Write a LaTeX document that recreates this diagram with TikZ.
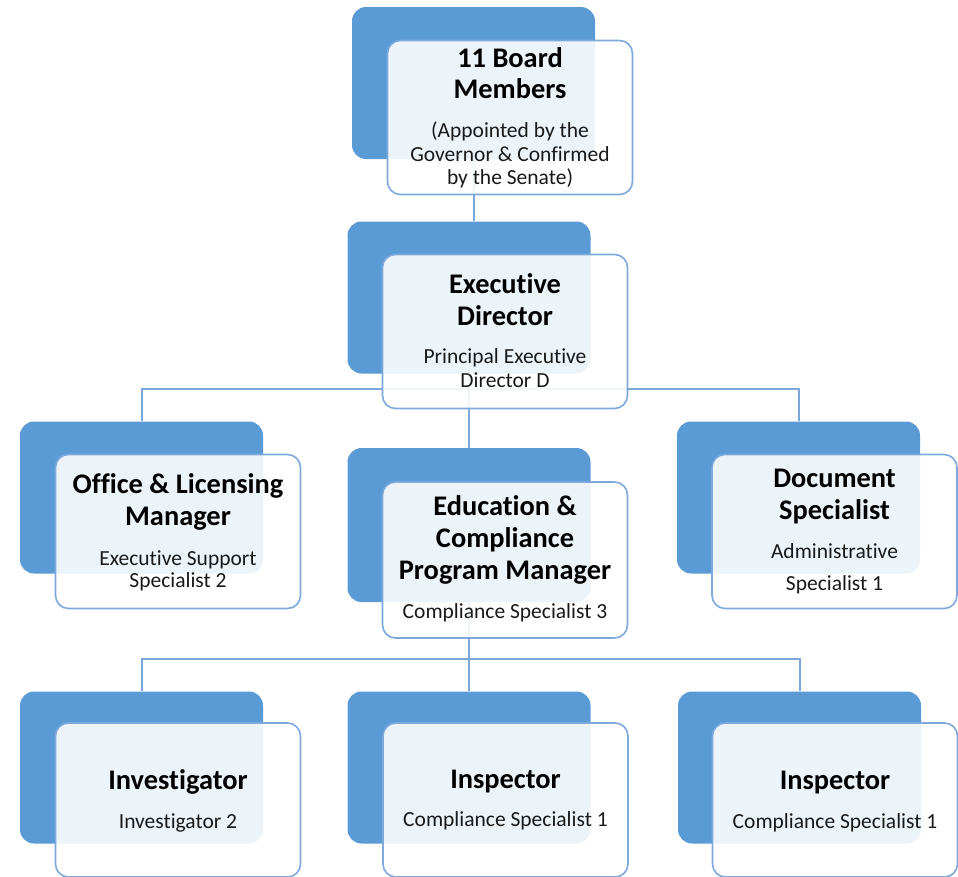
\documentclass[tikz,border=0pt]{standalone}
\usepackage{fontspec}
\setmainfont{Carlito}[Ligatures=NoCommon]
\definecolor{backblue}{HTML}{5B9BD5}
\definecolor{edgeblue}{HTML}{7EA9DC}
\definecolor{lineblue}{HTML}{7BA7DA}
\tikzset{
  backbox/.style={rectangle, rounded corners=14pt, fill=backblue, draw=none,
    minimum width=243pt, minimum height=152pt, inner sep=0pt},
  frontbox/.style={rectangle, rounded corners=13pt, fill=white, fill opacity=0.89,
    draw=edgeblue, draw opacity=1, line width=1.6pt,
    minimum width=245pt, minimum height=154pt, inner sep=0pt},
  ttl/.style={anchor=base, inner sep=0pt, font=\fontsize{28.4}{32}\selectfont\bfseries, text=black},
  sub/.style={anchor=base, inner sep=0pt, font=\fontsize{21.5}{24}\selectfont, text=black!90},
  conn/.style={draw=lineblue, line width=2pt},
}
\begin{document}
\begin{tikzpicture}[x=1pt,y=-1pt]
\useasboundingbox (0,0) rectangle (958,876);
\clip (0,0) rectangle (958,876);
\fill[white] (0,0) rectangle (958,876);
% back boxes
\node[backbox] (bb)  at (473.5,83)  {};
\node[backbox] (eb)  at (469,297.5) {};
\node[backbox] (ob)  at (141.5,497.5) {};
\node[backbox,minimum height=154pt] (edb) at (469,525) {};
\node[backbox] (db)  at (798.5,497.5) {};
\node[backbox] (ivb) at (141.5,767.5) {};
\node[backbox] (inb) at (469,767.5) {};
\node[backbox] (i3b) at (799.5,767.5) {};
% junction levels
\coordinate (j1) at (0,389);
\coordinate (j2) at (0,659);
% connectors
\draw[conn] (bb.south) -- (bb.south |- eb.north);
\draw[conn] (eb.south) -- (edb.north);
\draw[conn] (eb.south |- j1) -| (ob.north);
\draw[conn] (eb.south |- j1) -| (db.north);
\draw[conn] (edb.south) -- (inb.north);
\draw[conn] (edb.south |- j2) -| (ivb.north);
\draw[conn] (edb.south |- j2) -| (i3b.north);
% front boxes
\node[frontbox] (bf)  at (510,117.5) {};
\node[frontbox] (ef)  at (505,331.5) {};
\node[frontbox] (of)  at (178,531.5) {};
\node[frontbox,minimum height=156pt] (edf) at (505,560) {};
\node[frontbox] (df)  at (834.5,531.5) {};
\node[frontbox] (ivf) at (178,800) {};
\node[frontbox] (inf) at (505.5,800) {};
\node[frontbox] (i3f) at (835,800) {};
% texts: board
\node[ttl] (t1a) at (510,67)  {11 Board};
\node[ttl] (t1b) at (510,98)  {Members};
\node[sub] (s1a) at (510,137) {(Appointed by the};
\node[sub] (s1b) at (510,161) {Governor \& Confirmed};
\node[sub] (s1c) at (510,184) {by the Senate)};
% executive director
\node[ttl] (t2a) at (505,293) {Executive};
\node[ttl] (t2b) at (505,325) {Director};
\node[sub] (s2a) at (505,363) {Principal Executive};
\node[sub] (s2b) at (505,387) {Director D};
% office
\node[ttl] (t3a) at (178,493) {Office \& Licensing};
\node[ttl] (t3b) at (178,525) {Manager};
\node[sub] (s3a) at (178,565) {Executive Support};
\node[sub] (s3b) at (178,587) {Specialist 2};
% education
\node[ttl] (t4a) at (505,515) {Education \&};
\node[ttl] (t4b) at (505,547) {Compliance};
\node[ttl] (t4c) at (505,579) {Program Manager};
\node[sub] (s4a) at (505,618) {Compliance Specialist 3};
% document
\node[ttl] (t5a) at (834.5,487) {Document};
\node[ttl] (t5b) at (834.5,519) {Specialist};
\node[sub] (s5a) at (834.5,558) {Administrative};
\node[sub] (s5b) at (834.5,590) {Specialist 1};
% bottom row
\node[ttl] (t6a) at (178,789) {Investigator};
\node[sub] (s6a) at (178,828) {Investigator 2};
\node[ttl] (t7a) at (505.5,788) {Inspector};
\node[sub] (s7a) at (505.5,826) {Compliance Specialist 1};
\node[ttl] (t8a) at (835,789) {Inspector};
\node[sub] (s8a) at (835,828) {Compliance Specialist 1};
\end{tikzpicture}
\end{document}
